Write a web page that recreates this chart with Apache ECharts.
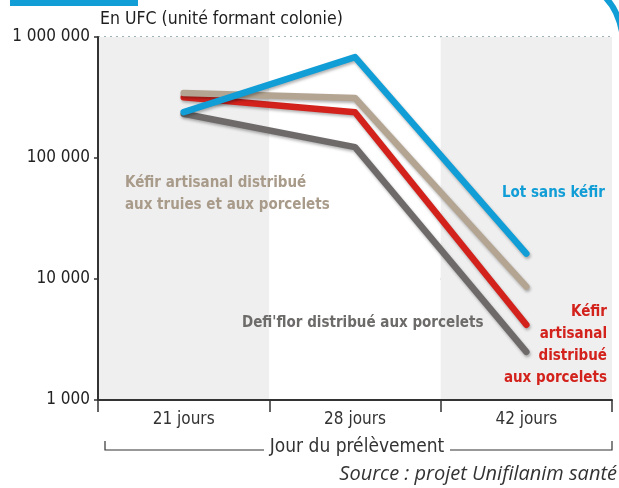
<!DOCTYPE html>
<html><head><meta charset="utf-8">
<script src="https://cdn.jsdelivr.net/npm/echarts@6/dist/echarts.min.js"></script>
<style>html,body{margin:0;padding:0;background:#fff}#c{width:619px;height:488px}</style>
</head><body><div id="c"></div>
<script>
var categories = ['21 jours', '28 jours', '42 jours'];
var lotSansKefir = [239000, 682000, 16200];
var kefirTruiesPorcelets = [344000, 313000, 8650];
var kefirPorcelets = [318000, 239000, 4190];
var defiflor = [232000, 123000, 2500];

var FONT = "'DejaVu Sans Condensed',sans-serif";
function fmt(v){ return String(Math.round(v)).replace(/\B(?=(\d{3})+(?!\d))/g, ' '); }

var chart = echarts.init(document.getElementById('c'), null, {renderer:'canvas'});
function mk(name, data, color, z){
  return {name:name, type:'line', data:data, symbol:'none', z:z,
    lineStyle:{color:color, width:6.5, cap:'round', join:'round',
      shadowColor:'rgba(0,0,0,0.3)', shadowBlur:3, shadowOffsetX:1, shadowOffsetY:2}};
}
var option = {
  animation:false,
  grid:{left:98, right:7, top:37, bottom:88, containLabel:false},
  xAxis:{type:'category', data:categories, boundaryGap:true,
    axisLine:{show:true, lineStyle:{color:'#333', width:2}},
    axisTick:{show:true, length:12, lineStyle:{color:'#333', width:1.5}},
    axisLabel:{color:'#333', fontSize:17, fontFamily:FONT, margin:11},
    splitArea:{show:true, areaStyle:{color:['#efefef','#ffffff']}},
    splitLine:{show:false}},
  yAxis:{type:'log', logBase:10, min:1000, max:1000000,
    axisLine:{show:true, lineStyle:{color:'#333', width:2}},
    axisTick:{show:true, length:4, lineStyle:{color:'#333', width:1.5}},
    axisLabel:{color:'#222', fontSize:17, fontFamily:FONT, margin:8,
      formatter:function(v){ return fmt(v); }},
    splitLine:{show:true, lineStyle:{color:'#9fb2b6', width:2, type:[2,4]}}},
  series:[
    mk('Defi\'flor', defiflor, '#6e6a69', 2),
    mk('Kéfir porcelets', kefirPorcelets, '#d3221c', 3),
    mk('Kéfir truies', kefirTruiesPorcelets, '#b4a592', 4),
    mk('Lot sans kéfir', lotSansKefir, '#119dd6', 5)
  ],
  graphic:[
    {type:'rect', z:100, shape:{x:10,y:0,width:128,height:6}, style:{fill:'#119dd6'}},
    {type:'bezierCurve', z:100, shape:{x1:605,y1:-3,cpx1:614,cpy1:6,cpx2:619,cpy2:16,x2:622,y2:32}, style:{stroke:'#119dd6', lineWidth:6, fill:null}},
    {type:'text', z:100, style:{x:100, y:19, text:'En UFC (unité formant colonie)', fill:'#1e1e1e', fontSize:17.5, fontFamily:FONT, textVerticalAlign:'middle'}},
    {type:'text', z:100, style:{x:125, y:194, text:'Kéfir artisanal distribué\naux truies et aux porcelets', fill:'#a99b8a', fontSize:15, fontWeight:'bold', fontFamily:FONT, textVerticalAlign:'middle', lineHeight:22}},
    {type:'text', z:100, style:{x:502, y:193, text:'Lot sans kéfir', fill:'#119dd6', fontSize:15, fontWeight:'bold', fontFamily:FONT, textVerticalAlign:'middle'}},
    {type:'text', z:100, style:{x:242, y:323, text:'Defi\'flor distribué aux porcelets', fill:'#6d6b6a', fontSize:15, fontWeight:'bold', fontFamily:FONT, textVerticalAlign:'middle'}},
    {type:'text', z:100, style:{x:607, y:345, text:'Kéfir\nartisanal\ndistribué\naux porcelets', fill:'#d3221c', fontSize:15, fontWeight:'bold', fontFamily:FONT, textAlign:'right', textVerticalAlign:'middle', lineHeight:22}},
    {type:'polyline', z:100, shape:{points:[[105,441],[105,450],[264,450]]}, style:{stroke:'#333', lineWidth:1.2, fill:null}},
    {type:'polyline', z:100, shape:{points:[[450,450],[612,450],[612,441]]}, style:{stroke:'#333', lineWidth:1.2, fill:null}},
    {type:'text', z:100, style:{x:357, y:447, text:'Jour du prélèvement', fill:'#333', fontSize:19, fontFamily:FONT, textAlign:'center', textVerticalAlign:'middle'}},
    {type:'text', z:100, style:{x:617, y:474, text:'Source : projet Unifilanim santé', fill:'#333', fontSize:20, fontStyle:'italic', fontFamily:"'Open Sans',sans-serif", textAlign:'right', textVerticalAlign:'middle'}}
  ]
};
chart.setOption(option);
</script></body></html>
